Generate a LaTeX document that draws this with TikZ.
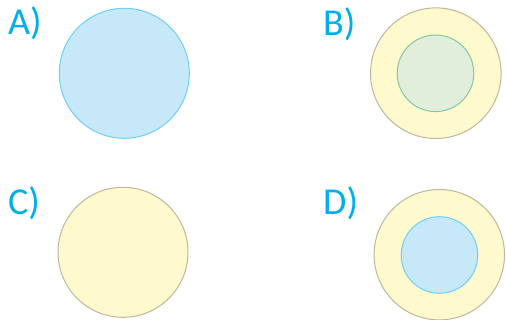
\documentclass[tikz,border=0pt]{standalone}
\usepackage{fontspec}
\setmainfont{Carlito}
\definecolor{lbl}{HTML}{00AEEF}
\definecolor{bfill}{HTML}{C7E8F8}
\definecolor{bline}{HTML}{6DCFF6}
\definecolor{yfill}{HTML}{FFF9CE}
\definecolor{yline}{HTML}{C2B59B}
\definecolor{gfill}{HTML}{E2EEDC}
\definecolor{gline}{HTML}{7FCB9D}
\tikzset{
  lab/.style={anchor=base west, inner sep=0pt, text=lbl, font=\fontsize{38}{38}\selectfont},
  bluec/.style={circle, fill=bfill, draw=bline, line width=1pt},
  yelc/.style={circle, fill=yfill, draw=yline, line width=1pt},
  grnc/.style={circle, fill=gfill, draw=gline, line width=1pt}
}
\begin{document}
\begin{tikzpicture}[x=1pt, y=-1pt]
\useasboundingbox (0,0) rectangle (506,320);
\node[lab] (la) at (8,35) {A)};
\node[lab] (lb) at (323,35.5) {B)};
\node[lab] (lc) at (8,214.3) {C)};
\node[lab] (ld) at (323,214.3) {D)};
\draw[bluec] (124.3,73.3) circle (65);
\draw[yelc] (435.8,73.2) circle (65.3);
\draw[grnc] (435.5,73.3) circle (38.3);
\draw[yelc] (123,252.3) circle (65);
\draw[yelc] (439.3,254.7) circle (65.2);
\draw[bluec] (439.5,255) circle (38.3);
\end{tikzpicture}
\end{document}
